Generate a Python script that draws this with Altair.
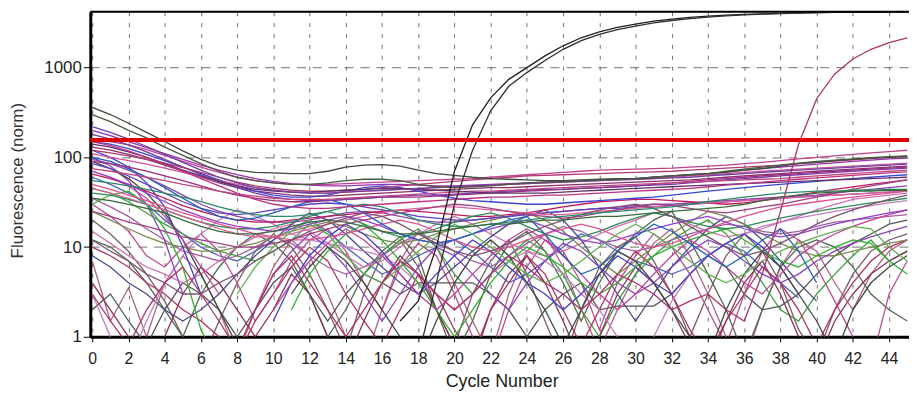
import altair as alt
import pandas as pd

N = None
CYCLES = list(range(0, 46))
THRESHOLD = 156
X_TICKS = list(range(0, 45, 2))
Y_TICKS = [1, 10, 100, 1000]

# ---- low, noisy traces ----
L1 = [7,1.5,3.5,1,4,8,5,2,0.6,2,6,12,8,3,1,0.5,2,7,15,10,4,1.5,0.6,3,9,14,6,2,0.7,2,5,11,16,8,3,1,0.5,2,6,12,9,4,2,5,9,12]
L2 = [20,14,9,5,2.5,1,0.5,1.5,4,9,14,10,5,2,0.7,3,8,12,6,2,0.8,3,7,12,5,1.5,0.5,2,6,10,13,7,3,1,3,8,14,9,4,1.2,0.6,2,5,9,12,14]
L3 = [12,10,7,4,2,1,3,6,10,14,11,7,3,1,2,5,9,13,8,2,0.6,1.5,5,11,15,9,4,1.5,4,9,14,20,25,12,5,2,0.6,2,6,10,12,10,6,3,2,1.5]
L4 = [30,22,15,8,6,10,14,9,4,1.5,3,7,12,16,9,4,2,6,11,8,3,1,0.5,2,6,12,9,4,1.2,4,8,14,10,5,2,0.8,3,9,16,12,6,2.5,1,0.5,3,7]
L5 = [60,50,40,30,20,14,10,8,7,9,12,16,20,15,10,7,5,6,8,10,12,9,6,4,5,7,10,14,12,9,7,6,5,6,8,11,9,6,4,2.7,N,N,N,N,N,N]
L6 = [45,40,32,24,18,14,11,9,8,7,9,12,18,14,8,5,8,12,16,10,5,3,5,8,12,9,5,2,1,2.5,5,8,12,16,20,14,8,4,2,1.5,3,5,8,12,7,9]
L7 = [4,2,1,0.5,1,3,6,4,2,1,2,5,3,1,0.5,1.5,4,8,5,2,0.8,0.5,2,5,8,4,1.5,0.5,1,3,6,4,2,0.8,0.5,1.5,4,7,3,1,0.5,1.5,3,5,7,9]
L8 = [35,28,22,16,12,9,8,7,8,10,13,11,8,6,5,6,8,11,14,12,9,7,6,8,11,14,17,15,12,10,9,10,12,14,16,18,17,15,14,15,17,19,20,21,22,23]
L9 = [2,3,1.5,0.8,2,4,3,2,1,2,4,6,3,1.5,3,5,4,3,4,4,4,4,3,2,1,2,3,4,2,2.2,2.2,2.2,3,5,8,6,3,2,2.2,3,5,8,11,14,18,20]
L10 = [15,11,8,6,5,4,5,7,10,13,16,18,15,11,8,6,7,10,14,18,22,18,14,11,9,8,9,11,14,17,20,24,22,18,15,13,14,16,19,22,26,30,34,36,38,40]
L11 = [8,6,4,3,2,1.5,2,3,5,8,12,18,24,20,14,9,6,4,3,4,6,9,13,18,22,26,20,12,6,3,1.5,3,6,10,16,22,18,12,7,4,2.5,N,N,N,N,N]
L12 = [10,8,6,4,3,2,1.5,1,0.6,1.5,3,6,10,7,3,1.5,0.8,2,5,3,1.2,0.6,2,4,8,5,2,0.8,2,5,9,6,3,1.2,0.6,1.5,3,6,4,2,0.8,2,4,7,10,12]
L13 = [25,20,16,13,11,10,9,9,10,11,13,15,17,19,17,14,12,11,12,14,16,18,20,22,24,20,15,10,7,5,7,10,14,19,25,22,18,14,11,9,8,8,9,10,11,12]
L14 = [3,1,0.5,1.5,4,8,14,20,26,22,18,14,12,11,10,9,8,6,4,3,2,3,5,7,9,7,5,3,2,1,0.5,1,2.5,5,8,11,14,17,19,21,23,25,27,29,31,33]

# ---- early dropping traces ----
D1 = [100,80,55,30,12,3,N,N,N,2,5,9,14,10,6,3,1.5,3,6,10,8,5,3,2,4,7,11,9,6,4,3,4,6,9,12,10,7,5,4,5,7,9,11,13,15,17]
D2 = [120,100,78,52,28,10,3,N,N,N,1.5,4,8,13,18,14,9,5,3,5,8,12,9,6,4,3,2,3,5,8,6,4,3,5,8,11,14,10,6,3,N,N,N,N,N,N]
D3 = [30,38,42,30,16,6,1.2,0.5,N,N,N,2,5,9,14,18,12,7,4,2,1,2,4,7,10,8,6,4,3,4,6,8,10,12,14,16,12,9,7,6,8,10,12,11,7,5]
D4 = [90,75,58,40,24,12,5,2,0.8,N,N,3,6,10,7,4,2,1,0.5,1.5,4,8,12,8,4,2,0.8,2,5,9,7,4,2,1,0.6,2,5,9,6,3,1.5,0.6,2,4,6,8]
D5 = [70,60,48,35,22,12,6,3,N,N,2,4,7,11,16,12,8,5,3,2,3,5,8,12,16,12,8,5,3,2,3,5,8,12,9,6,4,3,5,8,11,14,17,20,23,26]

# ---- middle level traces ----
M1 = [95,85,72,60,48,38,30,25,22,20,19,19,20,22,24,25,24,22,20,19,19,20,21,22,23,24,25,26,27,28,29,30,30,31,32,33,34,35,36,37,38,40,42,44,46,48]
M2 = [65,58,50,42,35,29,25,22,20,19,19,20,21,22,23,24,25,26,25,24,23,22,22,23,24,26,28,30,32,33,34,34,33,32,31,30,31,33,35,38,41,44,47,50,53,56]
M3 = [40,38,34,30,26,22,19,17,16,16,17,19,22,25,22,18,15,13,14,16,19,22,24,21,17,14,12,13,15,18,21,24,22,19,17,16,17,19,21,23,25,27,29,31,33,35]
M4 = [85,75,62,50,40,32,27,24,23,24,26,28,30,31,30,28,26,24,22,21,20,20,21,22,23,24,25,26,27,27,28,28,29,30,31,32,33,34,35,36,37,38,39,40,41,42]
M5 = [45,40,35,30,26,22,19,16,14,13,13,14,16,18,20,22,24,26,27,28,28,27,26,25,24,23,23,24,25,26,27,28,29,30,31,32,33,34,35,36,37,38,39,40,41,42]
E1 = [70,60,50,40,32,26,22,19,17,16,15,16,18,20,22,20,17,14,12,11,12,14,16,18,20,17,14,12,11,12,14,16,18,20,22,19,16,14,13,14,16,18,20,22,24,26]
E2 = [50,44,38,33,28,24,21,18,16,14,13,12,12,13,14,16,18,20,18,15,12,10,9,10,12,14,16,18,16,13,11,10,11,13,16,19,22,25,28,30,32,34,36,38,40,42]
E3 = [100,90,75,60,46,35,27,22,20,21,24,28,32,34,30,24,18,14,12,11,12,14,17,20,22,14,8,5,6,9,13,18,15,11,8,6,8,12,16,9,4,N,N,N,N,N]
E4 = [N,N,N,N,N,N,N,N,3,6,10,15,20,14,8,5,4,6,9,13,18,14,10,7,5,4,5,7,10,14,18,14,10,7,5,4,5,7,9,11,13,15,17,16,10,7]
E5 = [25,22,19,17,15,13,12,11,10,10,11,12,14,16,18,20,22,24,26,28,30,29,27,25,23,22,21,22,24,26,28,30,29,27,25,24,26,28,30,33,36,40,44,48,52,56]
E6 = [12,9,7,5,4,3,3,4,5,7,9,12,15,18,21,24,22,18,14,11,9,8,9,11,14,17,20,23,26,28,30,27,22,17,13,10,8,9,11,14,18,22,26,30,34,38]
G1 = [55,52,48,44,40,36,32,28,25,23,22,22,23,25,28,30,28,24,20,18,17,17,18,19,20,21,22,23,24,25,26,27,28,30,32,34,36,38,40,41,42,42,43,43,44,44]
G2 = [35,33,30,27,24,20,17,15,14,14,15,17,19,20,19,17,15,14,14,15,16,17,18,18,19,20,20,21,22,22,23,24,25,26,27,28,30,33,36,38,40,41,42,42,43,43]

# ---- upper bundle ----
B1 = [200,175,150,128,110,95,82,72,64,58,54,51,49,48,48,49,50,50,49,48,48,49,50,51,52,53,54,55,56,57,58,60,62,64,66,69,72,75,78,81,84,87,90,93,96,98]
B2 = [160,150,138,122,105,90,78,68,60,55,52,50,50,50,51,52,53,54,55,56,57,58,60,62,64,66,68,70,72,73,74,75,76,78,80,82,85,88,92,96,100,104,108,112,116,120]
B3 = [130,120,108,95,82,70,60,52,46,42,40,38,37,37,38,39,40,41,42,43,44,45,46,46,47,48,49,50,51,52,53,54,55,56,58,60,62,64,66,68,70,72,74,76,78,80]
B4 = [150,140,125,108,92,78,66,56,48,42,38,36,36,38,42,46,48,46,42,38,35,33,32,31,30,30,31,32,33,34,35,36,38,40,42,44,46,48,50,52,54,56,58,60,62,64]
B5 = [110,100,92,84,76,68,61,55,50,46,43,41,40,40,41,42,43,44,45,46,47,48,49,50,51,52,53,54,55,56,57,58,60,62,64,66,68,70,72,74,76,78,80,82,84,86]
B6 = [90,85,78,70,62,55,48,42,38,35,33,32,32,33,34,35,36,36,36,37,38,39,40,41,42,43,44,45,46,47,48,50,52,54,56,58,60,62,64,66,68,70,72,74,76,78]
B7 = [180,160,138,115,95,78,64,54,46,40,36,34,33,33,34,35,36,37,38,38,39,40,41,42,43,44,44,45,46,47,48,49,50,52,54,56,58,60,62,64,66,68,70,72,74,76]
B8 = [120,112,104,95,86,77,68,60,53,48,45,43,42,42,43,44,46,48,50,52,54,56,58,60,62,63,64,65,66,67,68,69,70,72,74,76,78,80,82,85,88,91,94,97,100,103]
B9 = [75,70,65,60,55,50,46,42,39,37,35,34,34,34,35,36,37,38,39,40,41,42,42,43,44,45,46,47,48,49,50,51,52,53,54,55,56,57,58,60,62,64,66,68,70,72]
B10 = [140,130,115,100,85,72,62,54,48,44,42,41,41,42,43,44,45,45,44,43,42,41,40,40,40,40,41,42,43,44,45,46,47,48,49,50,51,52,53,54,55,56,57,58,59,60]
B11 = [150,135,118,100,84,70,58,48,40,34,30,28,27,27,28,29,30,31,32,33,34,35,36,36,37,38,38,39,40,41,42,43,44,45,47,49,51,53,55,57,59,61,63,65,67,69]
B12 = [220,190,160,132,108,88,72,60,52,46,43,41,40,40,41,42,43,44,45,46,47,48,49,50,51,52,53,54,55,56,57,58,59,60,62,64,66,68,70,72,74,76,78,80,82,84]
U1 = [360,300,240,190,150,118,95,80,72,68,67,66,66,70,78,82,83,80,72,66,63,60,58,57,56,55,55,56,57,58,58,60,62,64,66,68,72,75,80,85,88,92,95,98,100,102]
U2 = [300,250,200,165,130,105,85,70,60,55,52,50,50,52,55,57,57,55,50,47,46,47,48,50,52,53,54,55,56,57,58,60,62,64,66,70,74,78,82,86,90,93,96,99,102,104]

# ---- amplified traces ----
LATE = [3,1.5,0.8,2,4,6,3,1.5,0.7,2,5,8,4,2,1,2,4,7,5,3,2,3,5,8,6,4,3,2,3,5,4,3,2,2.5,3,2,1.5,5,25,140,450,850,1250,1600,1900,2150]
BLACK_A = [N,N,N,N,N,N,N,N,N,N,N,N,N,N,N,N,N,1.5,2.5,10,70,230,460,740,1000,1350,1750,2150,2500,2800,3050,3300,3480,3630,3750,3850,3920,3980,4030,4070,4100,4120,4140,4160,4180,4190]
BLACK_B = [N,N,N,N,N,N,N,N,N,N,N,N,N,N,N,N,N,N,0.6,4,30,120,330,620,880,1200,1600,2000,2350,2650,2900,3150,3350,3520,3660,3780,3870,3940,4000,4050,4090,4120,4140,4160,4180,4190]

SERIES = [
    ("L1", L1, "#b06080"), ("L2", L2, "#7a5a60"), ("L3", L3, "#4f6a4a"), ("L4", L4, "#c04a90"),
    ("L5", L5, "#5060c0"), ("L6", L6, "#3aa040"), ("L7", L7, "#8a3050"), ("L8", L8, "#a060a0"),
    ("L9", L9, "#555555"), ("L10", L10, "#d070b0"), ("L11", L11, "#4a4a8a"), ("L12", L12, "#b03060"),
    ("L13", L13, "#7a8a50"), ("L14", L14, "#c080c0"),
    ("D1", D1, "#8a40c0"), ("D2", D2, "#4040d0"), ("D3", D3, "#30b030"), ("D4", D4, "#3d4a3d"), ("D5", D5, "#c0409a"),
    ("M1", M1, "#8e44ad"), ("M2", M2, "#c2185b"), ("M3", M3, "#2e8b57"), ("M4", M4, "#6040c0"), ("M5", M5, "#e0609a"),
    ("E1", E1, "#9040d0"), ("E2", E2, "#e05090"), ("E3", E3, "#2060c0"), ("E4", E4, "#60b050"),
    ("E5", E5, "#a04080"), ("E6", E6, "#805070"),
    ("G1", G1, "#2a8a6a"), ("G2", G2, "#3a6a3a"),
    ("B1", B1, "#9b30b0"), ("B2", B2, "#c0408f"), ("B3", B3, "#8a2f6a"), ("B4", B4, "#3a45d0"),
    ("B5", B5, "#d0509a"), ("B6", B6, "#a02a80"), ("B7", B7, "#7a3aa0"), ("B8", B8, "#b03a70"),
    ("B9", B9, "#c04880"), ("B10", B10, "#60306a"), ("B11", B11, "#c03080"), ("B12", B12, "#7040a0"),
    ("U1", U1, "#3d4a3d"), ("U2", U2, "#4a5a40"),
    ("LATE", LATE, "#b0306a"), ("BLACK_A", BLACK_A, "#202020"), ("BLACK_B", BLACK_B, "#303030"),
]

rows = []
for order, (name, vals, _) in enumerate(SERIES):
    for c, v in zip(CYCLES, vals):
        rows.append({"series": name, "order": order, "cycle": c, "value": v})
df = pd.DataFrame(rows)

FONT = "Liberation Sans"
W, H = 826, 328

x_scale = alt.Scale(domain=[-0.11, 45.1], nice=False, zero=False)
y_scale = alt.Scale(type="log", domain=[1, 4200], nice=False)

lines = alt.Chart(df).mark_line(strokeWidth=1.3, clip=True).encode(
    x=alt.X("cycle:Q", scale=x_scale, title="Cycle Number",
            axis=alt.Axis(values=X_TICKS, grid=True, gridDash=[4, 7], gridColor="#707070",
                          gridWidth=1, domainWidth=3, domainColor="black", tickColor="black",
                          tickSize=5, labelPadding=9, labelFontSize=16, labelFont=FONT,
                          labelColor="#222", titleFont=FONT, titleFontSize=18,
                          titleFontWeight="normal", titleColor="#222",
                          titleX=415, titleY=45, titleBaseline="middle")),
    y=alt.Y("value:Q", scale=y_scale, title="Fluorescence (norm)",
            axis=alt.Axis(values=Y_TICKS, format="d", grid=True, gridDash=[9, 7],
                          gridColor="#707070", gridWidth=1, domainWidth=3, domainColor="black",
                          tickColor="black", tickSize=7, labelPadding=2, labelFontSize=17,
                          labelFont=FONT, labelColor="#222", titleFont=FONT, titleFontSize=17,
                          titleFontWeight="normal", titleColor="#333",
                          titleX=-73, titleY=170, titleBaseline="middle", titleAlign="center")),
    color=alt.Color("series:N", scale=alt.Scale(domain=[s[0] for s in SERIES],
                                                range=[s[2] for s in SERIES]), legend=None),
    order=alt.Order("order:Q"),
)

threshold = alt.Chart(pd.DataFrame({"t": [THRESHOLD]})).mark_rule(
    color="#e00000", strokeWidth=4).encode(y=alt.Y("t:Q", scale=y_scale))

top_border = alt.Chart(pd.DataFrame({"a": [0]})).mark_rule(color="black", strokeWidth=2).encode(
    x=alt.value(0), x2=alt.value(W), y=alt.value(0))

chart = alt.layer(lines, threshold, top_border).properties(
    width=W, height=H,
    padding={"left": 83, "top": 2, "right": 0, "bottom": 58},
    autosize=alt.AutoSizeParams(type="none"),
).configure_view(stroke=None).configure(background="white")

chart.save("out.html", embed_options={"renderer": "svg", "actions": False})
